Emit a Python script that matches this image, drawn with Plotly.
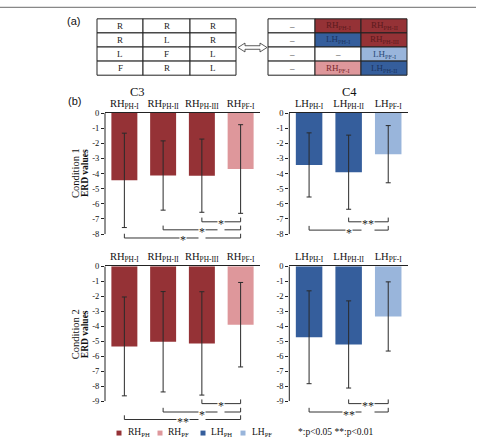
import plotly.graph_objects as go

W, H = 479, 438

# ---------------- data ----------------
c3_labels = ["RH<sub>PH-I</sub>", "RH<sub>PH-II</sub>", "RH<sub>PH-III</sub>", "RH<sub>PF-I</sub>"]
c4_labels = ["LH<sub>PH-I</sub>", "LH<sub>PH-II</sub>", "LH<sub>PF-I</sub>"]

c3_cond1_mean = [-4.45, -4.13, -4.14, -3.70]
c3_cond1_sd = [3.12, 2.29, 2.42, 2.93]
c4_cond1_mean = [-3.43, -3.91, -2.72]
c4_cond1_sd = [2.12, 2.45, 1.89]

c3_cond2_mean = [-5.35, -5.04, -5.15, -3.90]
c3_cond2_sd = [3.30, 3.35, 3.45, 2.82]
c4_cond2_mean = [-4.74, -5.22, -3.35]
c4_cond2_sd = [3.10, 2.91, 2.31]

# significance brackets: (from bar, to bar, mark)
c3_cond1_sig = [(2, 3, "*"), (1, 3, "*"), (0, 3, "*")]
c4_cond1_sig = [(1, 2, "**"), (0, 2, "*")]
c3_cond2_sig = [(2, 3, "*"), (1, 3, "*"), (0, 3, "**")]
c4_cond2_sig = [(1, 2, "**"), (0, 2, "**")]

yticks_cond1 = [0, -1, -2, -3, -4, -5, -6, -7, -8]
yticks_cond2 = [0, -1, -2, -3, -4, -5, -6, -7, -8, -9]

left_table = [["R", "R", "R"], ["R", "L", "R"], ["L", "F", "L"], ["F", "R", "L"]]
right_table = [["–", "RH<sub>PH-I</sub>", "RH<sub>PH-II</sub>"],
               ["–", "LH<sub>PH-I</sub>", "RH<sub>PH-III</sub>"],
               ["–", "–", "LH<sub>PF-I</sub>"],
               ["–", "RH<sub>PF-I</sub>", "LH<sub>PH-II</sub>"]]
right_kind = [["", "RHPH", "RHPH"], ["", "LHPH", "RHPH"], ["", "", "LHPF"], ["", "RHPF", "LHPH"]]

legend_names = ["RH<sub>PH</sub>", "RH<sub>PF</sub>", "LH<sub>PH</sub>", "LH<sub>PF</sub>"]
legend_kinds = ["RHPH", "RHPF", "LHPH", "LHPF"]

# ---------------- style ----------------
COL = {"RHPH": "#953236", "RHPF": "#DE979B", "LHPH": "#355E9C", "LHPF": "#99B5DB", "": "white"}
TXT = {"RHPH": "#5c1a1d", "RHPF": "#7a2a2e", "LHPH": "#1c3461", "LHPF": "#2b4a78", "": "#222"}
SERIF = "Liberation Serif, Times New Roman, serif"
SANS = "Liberation Sans, Arial, sans-serif"

c3_kinds = ["RHPH", "RHPH", "RHPH", "RHPF"]
c4_kinds = ["LHPH", "LHPH", "LHPF"]


def px(x):
    return x / W


def py(y):
    return 1 - y / H


fig = go.Figure()
shapes = []
annotations = []


def note(x, y, text, size, family=SERIF, color="#111", **kw):
    d = dict(x=px(x), y=py(y), xref="paper", yref="paper", text=text, showarrow=False,
             xanchor="center", yanchor="middle", font=dict(family=family, size=size, color=color))
    d.update(kw)
    annotations.append(d)


panels = [
    ("", c3_labels, c3_cond1_mean, c3_cond1_sd, c3_kinds, c3_cond1_sig, yticks_cond1,
     (105, 260), 109.3, 15.3, -8.5, [-7.19, -7.72, -8.26]),
    ("2", c4_labels, c4_cond1_mean, c4_cond1_sd, c4_kinds, c4_cond1_sig, yticks_cond1,
     (289.3, 408), 109.3, 15.3, -8.5, [-7.19, -7.74]),
    ("3", c3_labels, c3_cond2_mean, c3_cond2_sd, c3_kinds, c3_cond2_sig, yticks_cond2,
     (105, 260), 264.3, 15.15, -10.45, [-9.17, -9.73, -10.23]),
    ("4", c4_labels, c4_cond2_mean, c4_cond2_sd, c4_kinds, c4_cond2_sig, yticks_cond2,
     (289.3, 408), 264.3, 15.15, -10.45, [-9.17, -9.73]),
]

layout_axes = {}
for suf, labels, mean, sd, kinds, sig, yt, (x0, x1), ytop, unit, ymin, bys in panels:
    n = len(labels)
    xs = list(range(n))
    fig.add_trace(go.Bar(
        x=xs, y=mean, marker=dict(color=[COL[k] for k in kinds], line=dict(width=0)),
        error_y=dict(type="data", array=sd, arrayminus=sd, color="#2a2a2a", thickness=1, width=2.5),
        xaxis="x" + suf, yaxis="y" + suf, showlegend=False, width=0.67,
    ))
    ybot = ytop + (-ymin) * unit
    layout_axes["xaxis" + suf] = dict(
        domain=[px(x0), px(x1)], anchor="y" + suf, side="top", range=[-0.5, n - 0.5],
        tickvals=xs, ticktext=labels, showline=True, linecolor="#222", linewidth=1,
        ticks="", ticklabelstandoff=1, showgrid=False, zeroline=False,
        tickfont=dict(family=SERIF, size=10.5, color="#111"),
    )
    layout_axes["yaxis" + suf] = dict(
        domain=[py(ybot), py(ytop)], anchor="x" + suf, range=[ymin, 0],
        tickvals=yt, ticktext=[str(v) for v in yt], ticks="outside", ticklen=3, tickcolor="#222",
        showline=False, showgrid=False, zeroline=False,
        tickfont=dict(family=SERIF, size=8.5, color="#111"),
    )
    shapes.append(dict(type="line", xref="x%s domain" % suf, yref="y" + suf, x0=0, x1=0,
                       y0=0, y1=min(yt), line=dict(color="#222", width=1)))
    xr = "x" + suf
    yr = "y" + suf
    for (a, b, mark), yb in zip(sig, bys):
        th = 0.28
        shapes.append(dict(type="path", xref=xr, yref=yr,
                           path="M %g,%g L %g,%g L %g,%g L %g,%g" % (a, yb + th, a, yb, b, yb, b, yb + th),
                           line=dict(color="#333", width=1)))
        annotations.append(dict(x=(a + b) / 2, y=yb, xref=xr, yref=yr, text=mark, showarrow=False,
                                xanchor="center", yanchor="middle",
                                font=dict(family=SERIF, size=12, color="#222"), bgcolor="white",
                                borderpad=0, yshift=-2.5))

# titles
note(137, 88, "C3", 12.5)
note(349, 88, "C4", 12.5)
note(73, 16, "(a)", 11, family=SANS)
note(74, 97, "(b)", 11, family=SANS)
for label, yc in (("Condition 1", 170), ("Condition 2", 333)):
    note(75, yc, label, 10.5, textangle=-90)
    note(85, yc, "<b>ERD values</b>", 9.5, textangle=-90)

# panel (a) tables
row_y = [14 + i * 14.25 for i in range(5)]
for cols_x, table, kinds in (([97, 143, 190, 236], left_table, None),
                             ([268, 315, 361, 407], right_table, right_kind)):
    for r in range(4):
        for c in range(3):
            k = kinds[r][c] if kinds else ""
            shapes.append(dict(type="rect", xref="paper", yref="paper",
                               x0=px(cols_x[c]), x1=px(cols_x[c + 1]),
                               y0=py(row_y[r + 1]), y1=py(row_y[r]),
                               fillcolor=COL[k], line=dict(color="#222", width=1), layer="below"))
            note((cols_x[c] + cols_x[c + 1]) / 2, (row_y[r] + row_y[r + 1]) / 2, table[r][c], 9,
                 color=TXT[k])

# double arrow
pts = [(238, 43), (245, 38.5), (245, 41.2), (260, 41.2), (260, 38.5), (267, 43),
       (260, 47.5), (260, 44.8), (245, 44.8), (245, 47.5)]
path = "M " + " L ".join("%g,%g" % (px(x), py(y)) for x, y in pts) + " Z"
shapes.append(dict(type="path", xref="paper", yref="paper", path=path, fillcolor="white",
                   line=dict(color="#333", width=0.8)))

# top frame line
shapes.append(dict(type="line", xref="paper", yref="paper", x0=0, x1=px(476), y0=py(2.5), y1=py(2.5),
                   line=dict(color="#888", width=1.2)))

# legend
for name, kind, xs_, xt in zip(legend_names, legend_kinds, [119, 160, 203, 243], [126, 166, 209, 250]):
    shapes.append(dict(type="rect", xref="paper", yref="paper", x0=px(xs_ - 2.5), x1=px(xs_ + 2.5),
                       y0=py(435.5), y1=py(430.5), fillcolor=COL[kind], line=dict(width=0)))
    note(xt, 432, name, 9.5, xanchor="left")
note(336, 432, "*:p&lt;0.05 **:p&lt;0.01", 9.5)

fig.update_layout(
    width=W, height=H, margin=dict(l=0, r=0, t=0, b=0), paper_bgcolor="white", plot_bgcolor="white",
    showlegend=False, shapes=shapes, annotations=annotations, bargap=0.33, **layout_axes,
)
fig.write_html("out.html")
